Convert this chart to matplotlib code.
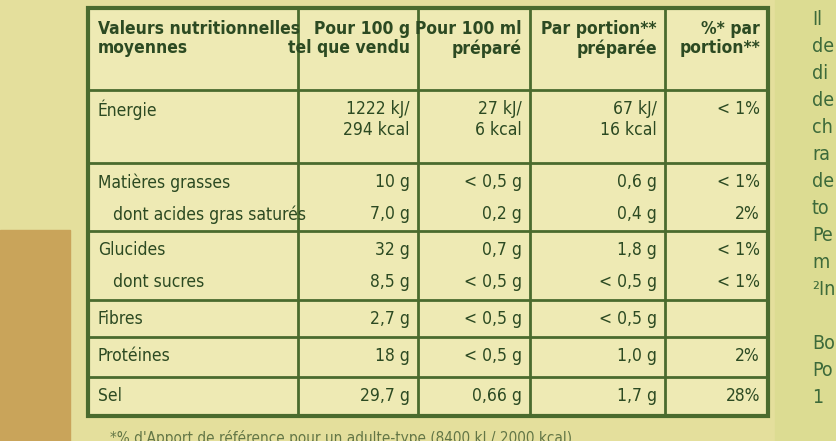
import matplotlib
matplotlib.use("Agg")
import matplotlib.pyplot as plt
from matplotlib.patches import Rectangle

headers = ["Valeurs nutritionnelles\nmoyennes", "Pour 100 g\ntel que vendu", "Pour 100 ml\npréparé",
           "Par portion**\npréparée", "%* par\nportion**"]
groups = [
    [("Énergie", "1222 kJ/\n294 kcal", "27 kJ/\n6 kcal", "67 kJ/\n16 kcal", "< 1%")],
    [("Matières grasses", "10 g", "< 0,5 g", "0,6 g", "< 1%"),
     ("   dont acides gras saturés", "7,0 g", "0,2 g", "0,4 g", "2%")],
    [("Glucides", "32 g", "0,7 g", "1,8 g", "< 1%"),
     ("   dont sucres", "8,5 g", "< 0,5 g", "< 0,5 g", "< 1%")],
    [("Fibres", "2,7 g", "< 0,5 g", "< 0,5 g", "")],
    [("Protéines", "18 g", "< 0,5 g", "1,0 g", "2%")],
    [("Sel", "29,7 g", "0,66 g", "1,7 g", "28%")],
]
footnote = "*% d'Apport de référence pour un adulte-type (8400 kJ / 2000 kcal)"
side_text = ["Il", "de", "di", "de", "ch", "ra", "de", "to", "Pe", "m", "²In", "", "Bo", "Po", "1"]

col_x = [88, 298, 418, 530, 665, 768]
group_y = [8, 90, 163, 231, 300, 337, 377, 416]
row_h = 32

txt = "#2c4a22"
line = "#4a6b2e"
font = dict(family="DejaVu Sans", stretch="condensed", color=txt, fontsize=12.5)

fig = plt.figure(figsize=(8.37, 4.41), dpi=100)
ax = fig.add_axes([0, 0, 1, 1])
ax.set_xlim(0, 837); ax.set_ylim(441, 0); ax.axis("off")
fig.patch.set_facecolor("#e4df9c")
ax.add_patch(Rectangle((0, 0), 837, 441, color="#e4df9c", zorder=0))
ax.add_patch(Rectangle((0, 230), 70, 211, color="#c9a45a", zorder=0.5))
ax.add_patch(Rectangle((775, 0), 62, 441, color="#dcdc92", zorder=0.5))
ax.add_patch(Rectangle((col_x[0], group_y[0]), col_x[-1]-col_x[0], group_y[-1]-group_y[0],
                       facecolor="#eeeab4", edgecolor=line, lw=3, zorder=1))
for x in col_x[1:-1]:
    ax.plot([x, x], [group_y[0], group_y[-1]], color=line, lw=2, zorder=2)
for y in group_y[1:-1]:
    ax.plot([col_x[0], col_x[-1]], [y, y], color=line, lw=2, zorder=2)

ax.text(col_x[0]+10, group_y[0]+12, headers[0], va="top", ha="left", weight="bold", linespacing=1.1, **font)
for j in range(1, 5):
    ax.text(col_x[j+1]-8, group_y[0]+12, headers[j], va="top", ha="right", weight="bold", linespacing=1.1, **font)

for g, rows in enumerate(groups):
    y0 = group_y[g+1] + 10
    for r, row in enumerate(rows):
        y = y0 + r*row_h
        ax.text(col_x[0]+10, y, row[0], va="top", ha="left", **font)
        for j in range(1, 5):
            ax.text(col_x[j+1]-8, y, row[j], va="top", ha="right", linespacing=1.2, **font)

ax.text(110, 430, footnote, va="top", ha="left", fontsize=11, color=txt, alpha=0.7,
        family="DejaVu Sans", stretch="condensed")
for i, s in enumerate(side_text):
    ax.text(812, 10 + i*27, s, va="top", ha="left", fontsize=14, color="#3d6a3a",
            family="DejaVu Sans", stretch="condensed")

fig.savefig("out.png", dpi=100)
